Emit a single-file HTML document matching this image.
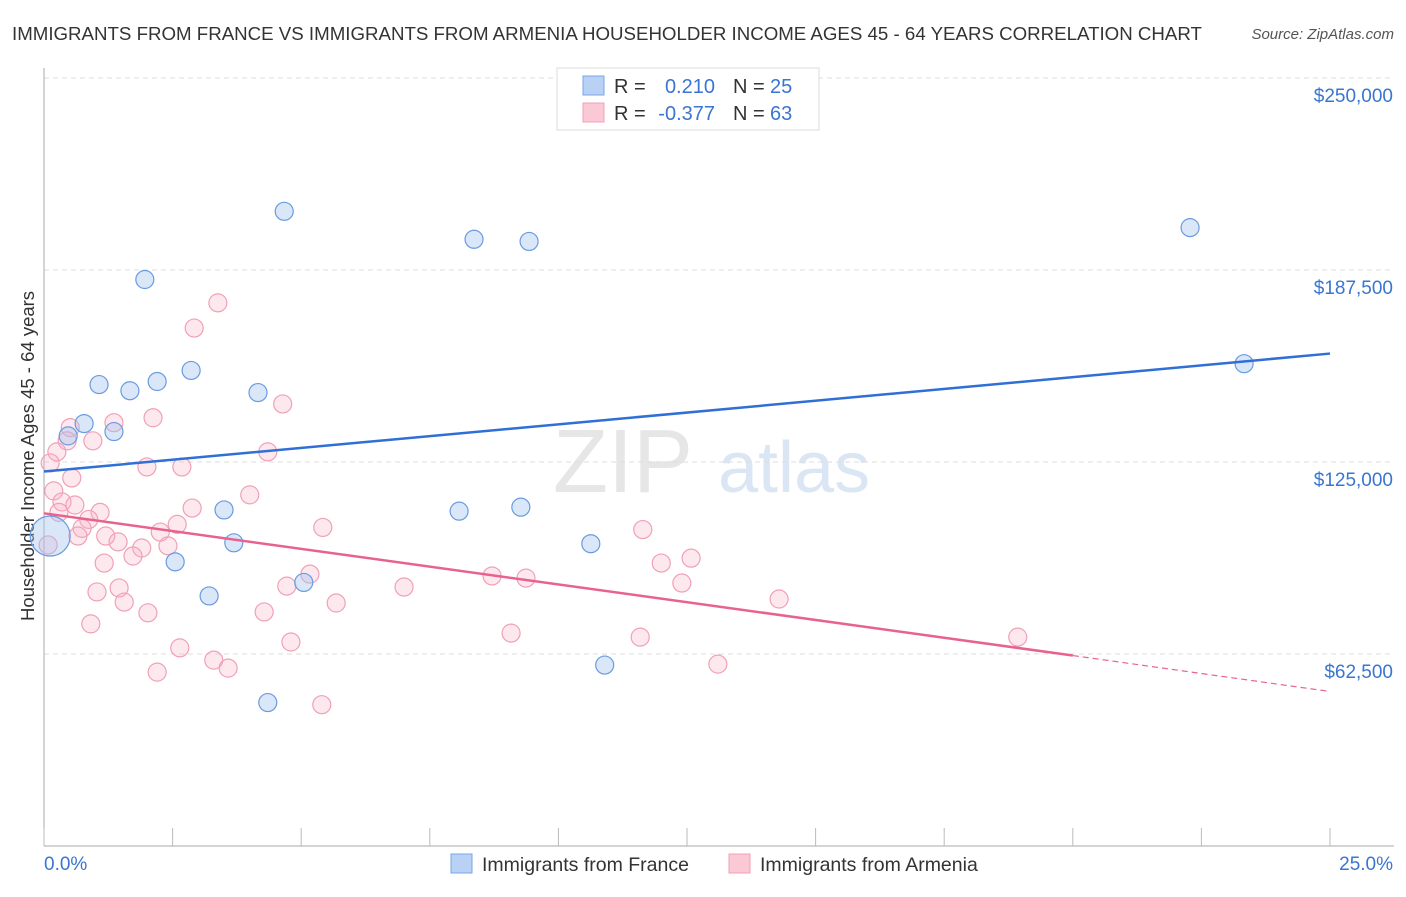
<!DOCTYPE html>
<html><head><meta charset="utf-8"><style>
body{margin:0;background:#fff;font-family:"Liberation Sans",sans-serif;}
svg text{font-family:"Liberation Sans",sans-serif;}
</style></head><body>
<svg id="c" width="1406" height="892"></svg>
<script>
const xTicks=[0,2.5,5,7.5,10,12.5,15,17.5,20,22.5,25];
const yTicks=[62500,125000,187500,250000];
const yTickLabels=["$62,500","$125,000","$187,500","$250,000"];
const franceX=[1.96,4.67,8.36,9.43,22.28,23.33,1.07,1.67,2.2,2.86,4.16,0.78,1.36,0.47,3.5,3.69,2.55,3.21,4.35,5.05,8.07,9.27,10.63,10.9,0.12];
const franceY=[184400,206600,197500,196800,201300,157000,150200,148200,151200,154800,147600,137500,134900,133500,109400,98700,92500,81400,46700,85800,109000,110300,98400,58900,100900];
const armeniaX=[3.38,2.92,4.64,2.12,1.36,0.51,0.45,0.95,0.25,4.35,2.0,2.68,0.12,0.54,0.19,4.0,0.35,0.6,2.88,0.29,1.09,0.87,2.59,0.74,5.42,11.64,1.2,2.26,0.66,1.44,1.9,2.41,1.73,12.58,1.17,12.0,5.17,8.71,9.37,4.72,7.0,12.4,1.46,1.03,1.56,14.29,5.68,2.02,4.28,0.91,9.08,11.59,4.8,2.64,3.3,18.93,3.58,2.2,13.1,5.4,0.08];
const armeniaY=[176800,168600,143900,139400,137800,136200,131900,131900,128300,128300,123400,123400,124700,119800,115600,114300,112000,111000,110000,108600,108600,106300,104700,103400,103700,103000,100900,102200,100900,99000,97000,97700,94400,93700,92100,92100,88500,87900,87200,84600,84300,85600,84000,82700,79400,80400,79100,75900,76200,72300,69300,68000,66400,64500,60500,68000,57900,56600,59200,46000,98000];
const trendFrance=[[0,121900],[25,160300]];
const trendArmenia=[[0,108300],[20,62000],[25,50300]];

const svg=document.getElementById('c');const NS='http://www.w3.org/2000/svg';
const X=v=>44+v/25*1286, Y=v=>846-v/62500*192;
function el(t,a,txt){const e=document.createElementNS(NS,t);for(const k in a)e.setAttribute(k,a[k]);if(txt!==undefined)e.textContent=txt;svg.appendChild(e);return e;}
let t=el('text',{x:12,y:40,'font-size':18.7,fill:'#333'},'IMMIGRANTS FROM FRANCE VS IMMIGRANTS FROM ARMENIA HOUSEHOLDER INCOME AGES 45 - 64 YEARS CORRELATION CHART');

t=el('text',{x:1394,y:39,'font-size':15,fill:'#555','text-anchor':'end','font-style':'italic'},'Source: ZipAtlas.com');

t=el('text',{x:553,y:492,'font-size':90,fill:'#e6e6e6','font-family':'Liberation Serif'},'ZIP');

t=el('text',{x:718,y:492,'font-size':72,fill:'#dbe6f5'},'atlas');

yTicks.forEach((v,i)=>{
 let g=el('line',{x1:44,x2:1394,y1:Y(v),y2:Y(v),stroke:'#ddd','stroke-dasharray':'5,4'});
 
 let l=el('text',{x:1393,y:Y(v)+24,'font-size':19,fill:'#3a75d0','text-anchor':'end'},yTickLabels[i]);
 
});
let a=el('line',{x1:44,x2:44,y1:68,y2:846,stroke:'#aaa'});
a=el('line',{x1:44,x2:1394,y1:846,y2:846,stroke:'#aaa'});
xTicks.forEach(v=>{let k=el('line',{x1:X(v),x2:X(v),y1:828,y2:846,stroke:'#bbb'});});
t=el('text',{x:44,y:870,'font-size':19,fill:'#3a75d0'},'0.0%');
t=el('text',{x:1393,y:870,'font-size':19,fill:'#3a75d0','text-anchor':'end'},'25.0%');
t=el('text',{x:34,y:456,'font-size':18.5,fill:'#333','text-anchor':'middle',transform:'rotate(-90 34 456)'},'Householder Income Ages 45 - 64 years');

armeniaX.forEach((v,i)=>{let c=el('circle',{cx:X(v),cy:Y(armeniaY[i]),r:9,fill:'rgba(248,180,200,0.3)',stroke:'#f0a0b8','stroke-width':1.2});
 });
franceX.forEach((v,i)=>{let c=el('circle',{cx:X(v),cy:Y(franceY[i]),r:i==24?20:9,fill:'rgba(160,195,240,0.4)',stroke:'#6a9be0','stroke-width':1.2});
 });
let l=el('line',{x1:X(trendFrance[0][0]),y1:Y(trendFrance[0][1]),x2:X(trendFrance[1][0]),y2:Y(trendFrance[1][1]),stroke:'#2f6fd6','stroke-width':2.5});

l=el('line',{x1:X(trendArmenia[0][0]),y1:Y(trendArmenia[0][1]),x2:X(trendArmenia[1][0]),y2:Y(trendArmenia[1][1]),stroke:'#e8628f','stroke-width':2.5});

l=el('line',{x1:X(trendArmenia[1][0]),y1:Y(trendArmenia[1][1]),x2:X(trendArmenia[2][0]),y2:Y(trendArmenia[2][1]),stroke:'#e8628f','stroke-width':1.2,'stroke-dasharray':'6,4'});

let r=el('rect',{x:557,y:68,width:262,height:62,fill:'#fff',stroke:'#ddd'});
r=el('rect',{x:583,y:76,width:21,height:19,fill:'#b8d1f5',stroke:'#7aa5e5'});
r=el('rect',{x:583,y:103,width:21,height:19,fill:'#fbc8d6',stroke:'#f0a0b8'});
[[93,'0.210','25'],[120,'-0.377','63']].forEach((d,i)=>{
 let a1=el('text',{x:614,y:d[0],'font-size':20,fill:'#333'},'R =');
 let a2=el('text',{x:715,y:d[0],'font-size':20,fill:'#3a75d0','text-anchor':'end'},d[1]);
 let a3=el('text',{x:733,y:d[0],'font-size':20,fill:'#333'},'N =');
 let a4=el('text',{x:770,y:d[0],'font-size':20,fill:'#3a75d0'},d[2]);
});
r=el('rect',{x:451,y:854,width:21,height:19,fill:'#b8d1f5',stroke:'#7aa5e5'});
t=el('text',{x:482,y:871,'font-size':19.5,fill:'#333'},'Immigrants from France');
r=el('rect',{x:729,y:854,width:21,height:19,fill:'#fbc8d6',stroke:'#f0a0b8'});
t=el('text',{x:760,y:871,'font-size':19.5,fill:'#333'},'Immigrants from Armenia');
</script>
</body></html>
